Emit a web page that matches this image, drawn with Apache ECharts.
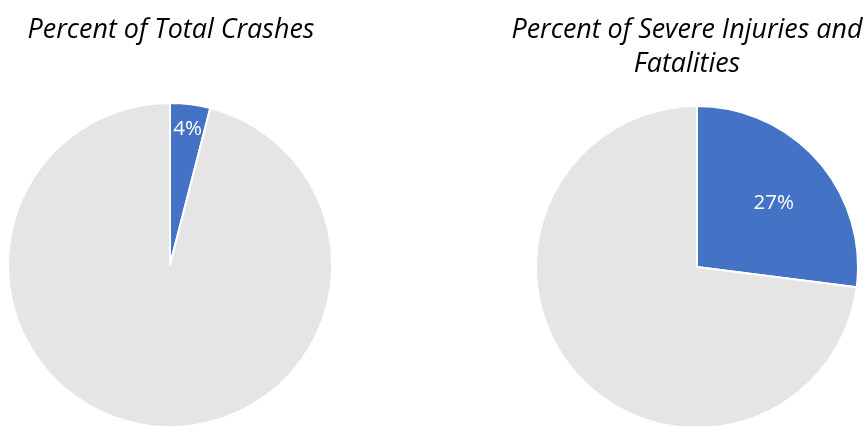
<!DOCTYPE html>
<html><head><meta charset="utf-8">
<script src="https://cdn.jsdelivr.net/npm/echarts@6/dist/echarts.min.js"></script>
<style>html,body{margin:0;padding:0;background:#fff}#c{width:864px;height:426px}</style>
</head><body><div id="c"></div>
<script>
const titles = ['Percent of Total Crashes', 'Percent of Severe Injuries and\nFatalities'];
const categories = ['Share', 'Other'];
const totalCrashes = [4, 96];
const severeFatal = [27, 73];
const colors = ['#4472C4', '#E5E5E5'];

const chart = echarts.init(document.getElementById('c'), null, {renderer: 'canvas'});
const fontFam = '"Open Sans", Lato, sans-serif';
function mk(vals, offsets) {
  return vals.map((v, i) => ({
    name: categories[i], value: v,
    itemStyle: {color: colors[i]},
    label: i === 0 ? {show: true, offset: offsets} : {show: false}
  }));
}
const tStyle = {fontFamily: fontFam, fontStyle: 'italic', fontWeight: 'normal', fontSize: 26.9, color: '#000', lineHeight: 34};
chart.setOption({
  animation: false,
  title: [
    {text: titles[0], left: 166, top: 8, textAlign: 'center', textStyle: tStyle},
    {text: titles[1], left: 682, top: 8, textAlign: 'center', textStyle: tStyle}
  ],
  series: [
    {type: 'pie', center: [170, 265], radius: 162, startAngle: 90, clockwise: true,
     itemStyle: {borderColor: '#fff', borderWidth: 2},
     label: {position: 'inside', formatter: '{c}%', color: '#fff', fontSize: 20.5, fontFamily: fontFam},
     labelLine: {show: false}, emphasis: {disabled: true},
     data: mk(totalCrashes, [7, -53])},
    {type: 'pie', center: [697, 267], radius: 161, startAngle: 90, clockwise: true,
     itemStyle: {borderColor: '#fff', borderWidth: 2},
     label: {position: 'inside', formatter: '{c}%', color: '#fff', fontSize: 20.5, fontFamily: fontFam},
     labelLine: {show: false}, emphasis: {disabled: true},
     data: mk(severeFatal, [14, -9])}
  ]
});
</script></body></html>
